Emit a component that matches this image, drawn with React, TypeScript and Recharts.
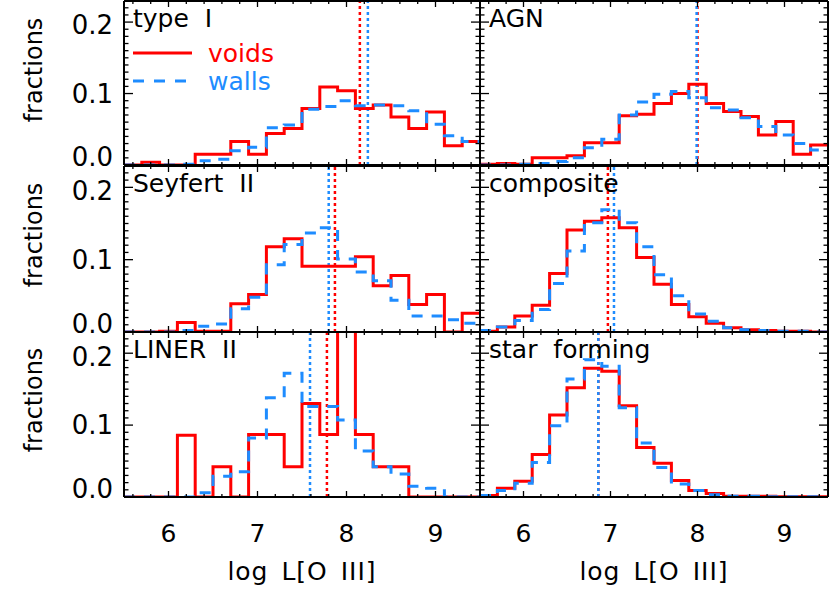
import React from 'react';
import { LineChart, Line, XAxis, YAxis, ReferenceLine } from 'recharts';

// ---- data ----
const binEdges = [5.5, 5.7, 5.9, 6.1, 6.3, 6.5, 6.7, 6.9, 7.1, 7.3, 7.5, 7.7, 7.9, 8.1, 8.3, 8.5, 8.7, 8.9, 9.1, 9.3, 9.5];

const typeIVoids = [0, 0.004, 0, 0, 0.015, 0.015, 0.033, 0.015, 0.044, 0.051, 0.079, 0.109, 0.104, 0.079, 0.084, 0.067, 0.051, 0.074, 0.027, 0.033];
const typeIWalls = [0, 0, 0, 0.001, 0.006, 0.008, 0.020, 0.025, 0.052, 0.056, 0.078, 0.082, 0.090, 0.083, 0.084, 0.083, 0.076, 0.057, 0.041, 0.033];

const agnVoids = [0.001, 0.002, 0.001, 0.010, 0.010, 0.013, 0.031, 0.031, 0.069, 0.071, 0.086, 0.100, 0.113, 0.086, 0.075, 0.068, 0.042, 0.061, 0.015, 0.028];
const agnWalls = [0, 0, 0.001, 0.002, 0.005, 0.010, 0.024, 0.036, 0.070, 0.088, 0.099, 0.103, 0.094, 0.080, 0.077, 0.066, 0.054, 0.042, 0.030, 0.021];

const seyfertVoids = [0, 0, 0.001, 0.013, 0.001, 0.001, 0.039, 0.052, 0.118, 0.129, 0.091, 0.091, 0.091, 0.104, 0.064, 0.078, 0.038, 0.052, 0, 0.026];
const seyfertWalls = [0, 0, 0, 0.002, 0.008, 0.011, 0.032, 0.048, 0.093, 0.121, 0.137, 0.144, 0.101, 0.083, 0.071, 0.044, 0.022, 0.022, 0.017, 0.012];

const compositeVoids = [0.001, 0.007, 0.022, 0.037, 0.081, 0.141, 0.153, 0.158, 0.144, 0.103, 0.066, 0.038, 0.021, 0.012, 0.006, 0.003, 0.002, 0.001, 0.001, 0];
const compositeWalls = [0.002, 0.007, 0.016, 0.031, 0.067, 0.112, 0.151, 0.169, 0.151, 0.118, 0.079, 0.050, 0.025, 0.015, 0.006, 0.003, 0.002, 0.001, 0.001, 0];

const linerVoids = [0, 0, 0, 0.086, 0, 0.042, 0, 0.087, 0.087, 0.042, 0.130, 0.087, 0.27, 0.087, 0.042, 0.042, 0, 0, 0, 0];
const linerWalls = [0, 0, 0, 0, 0.006, 0.029, 0.035, 0.082, 0.138, 0.172, 0.126, 0.126, 0.107, 0.064, 0.042, 0.032, 0.015, 0.012, 0, 0];

const starVoids = [0.002, 0.012, 0.022, 0.059, 0.114, 0.152, 0.179, 0.175, 0.127, 0.069, 0.047, 0.023, 0.009, 0.005, 0.001, 0.001, 0.001, 0.0005, 0.0005, 0.0005];
const starWalls = [0.002, 0.009, 0.019, 0.048, 0.099, 0.164, 0.191, 0.182, 0.124, 0.075, 0.041, 0.018, 0.009, 0.003, 0.001, 0.001, 0.0005, 0.0005, 0.0005, 0.0005];

const panelNames = ['type I', 'AGN', 'Seyfert II', 'composite', 'LINER II', 'star forming'];
const medianVoids = [8.15, 8.0, 7.87, 6.97, 7.78, 6.86];
const medianWalls = [8.24, 7.99, 7.8, 7.04, 7.59, 6.86];

const xTicks = [5.6, 5.8, 6.0, 6.2, 6.4, 6.6, 6.8, 7.0, 7.2, 7.4, 7.6, 7.8, 8.0, 8.2, 8.4, 8.6, 8.8, 9.0, 9.2, 9.4];
const xMajor = [6, 7, 8, 9];
const yTicks = [0, 0.01, 0.02, 0.03, 0.04, 0.05, 0.06, 0.07, 0.08, 0.09, 0.1, 0.11, 0.12, 0.13, 0.14, 0.15, 0.16, 0.17, 0.18, 0.19, 0.2, 0.21, 0.22];
const yMajor = [0, 0.1, 0.2];
const yTickLabels = ['0.0', '0.1', '0.2'];

// ---- style ----
const RED = '#ff0000';
const BLUE = '#1e8cff';
const FONT = '"DejaVu Sans", sans-serif';
const X_DOMAIN: [number, number] = [5.5, 9.5];
const Y_DOMAIN: [number, number] = [0, 0.2295];

const buildRows = (voids: number[], walls: number[]) =>
  binEdges.map((x, i) => ({
    x,
    voids: voids[Math.min(i, voids.length - 1)],
    walls: walls[Math.min(i, walls.length - 1)],
  }));

const panelSeries = [
  [typeIVoids, typeIWalls],
  [agnVoids, agnWalls],
  [seyfertVoids, seyfertWalls],
  [compositeVoids, compositeWalls],
  [linerVoids, linerWalls],
  [starVoids, starWalls],
];

const near = (v: number, list: number[]) => list.findIndex((m) => Math.abs(m - v) < 1e-6);

const makeYTick = (side: 'left' | 'right', showLabel: boolean) => (props: any) => {
  const { x, y, payload } = props;
  const v = payload.value;
  const mi = near(v, yMajor);
  const major = mi >= 0;
  const len = major ? 9 : 4.5;
  const dir = side === 'left' ? 1 : -1;
  const shift = v === 0 ? -8 : mi === 2 ? 3 : 0;
  return (
    <g>
      <line x1={x} y1={y} x2={x + dir * len} y2={y} stroke="#000" strokeWidth={1.3} />
      {showLabel && major ? (
        <text x={x - 11} y={y + shift} dy="0.36em" textAnchor="end" fontSize={26} fontFamily={FONT} fill="#000">
          {yTickLabels[mi]}
        </text>
      ) : null}
    </g>
  );
};

const makeXTick = (side: 'bottom' | 'top', showLabel: boolean) => (props: any) => {
  const { x, y, payload } = props;
  const v = payload.value;
  const mi = near(v, xMajor);
  const major = mi >= 0;
  const len = major ? 6 : 3;
  const dir = side === 'bottom' ? -1 : 1;
  return (
    <g>
      <line x1={x} y1={y} x2={x} y2={y + dir * len} stroke="#000" strokeWidth={1.3} />
      {showLabel && major ? (
        <text x={x} y={y + 45} textAnchor="middle" fontSize={25} fontFamily={FONT} fill="#000">
          {String(xMajor[mi])}
        </text>
      ) : null}
    </g>
  );
};

const colLeft = [0, 478];
const colWidth = [482, 352];
const colLeftAxisW = [124, 2];
const rowTop = [-1, 164, 330];
const rowPlotH = [164, 166, 165];
const rowBottomH = [14, 14, 96];

const axisLine = { stroke: '#000', strokeWidth: 2 };

function Panel({ idx }: { idx: number }) {
  const col = idx % 2;
  const row = Math.floor(idx / 2);
  const data = buildRows(panelSeries[idx][0], panelSeries[idx][1]);
  const w = colWidth[col];
  const h = 2 + rowPlotH[row] + rowBottomH[row];
  return (
    <div style={{ position: 'absolute', left: colLeft[col], top: rowTop[row], width: w, height: h }}>
      <LineChart width={w} height={h} data={data} margin={{ top: 0, right: 0, bottom: 0, left: 0 }}>
        <XAxis
          xAxisId="b"
          dataKey="x"
          type="number"
          orientation="bottom"
          domain={X_DOMAIN}
          allowDataOverflow
          ticks={xTicks}
          interval={0}
          height={rowBottomH[row]}
          tickSize={0}
          tickMargin={0}
          tickLine={false}
          axisLine={axisLine}
          tick={makeXTick('bottom', row === 2)}
        />
        <XAxis
          xAxisId="t"
          dataKey="x"
          type="number"
          orientation="top"
          domain={X_DOMAIN}
          allowDataOverflow
          ticks={xTicks}
          interval={0}
          height={2}
          tickSize={0}
          tickMargin={0}
          tickLine={false}
          axisLine={axisLine}
          tick={makeXTick('top', false)}
        />
        <YAxis
          yAxisId="l"
          type="number"
          orientation="left"
          domain={Y_DOMAIN}
          allowDataOverflow
          ticks={yTicks}
          interval={0}
          width={colLeftAxisW[col]}
          tickSize={0}
          tickMargin={0}
          tickLine={false}
          axisLine={axisLine}
          tick={makeYTick('left', col === 0)}
        />
        <YAxis
          yAxisId="r"
          type="number"
          orientation="right"
          domain={Y_DOMAIN}
          allowDataOverflow
          ticks={yTicks}
          interval={0}
          width={2}
          tickSize={0}
          tickMargin={0}
          tickLine={false}
          axisLine={axisLine}
          tick={makeYTick('right', false)}
        />
        <ReferenceLine xAxisId="b" yAxisId="l" x={medianVoids[idx]} stroke={RED} strokeWidth={2.5} strokeDasharray="3 3" />
        <ReferenceLine xAxisId="b" yAxisId="l" x={medianWalls[idx]} stroke={BLUE} strokeWidth={2.5} strokeDasharray="3 3" />
        <Line
          xAxisId="b"
          yAxisId="l"
          type="stepAfter"
          dataKey="voids"
          stroke={RED}
          strokeWidth={3}
          dot={false}
          activeDot={false}
          isAnimationActive={false}
        />
        <Line
          xAxisId="b"
          yAxisId="l"
          type="stepAfter"
          dataKey="walls"
          stroke={BLUE}
          strokeWidth={3}
          strokeDasharray="11 9"
          dot={false}
          activeDot={false}
          isAnimationActive={false}
        />
      </LineChart>
    </div>
  );
}

const plotLeft = [124, 480];
const plotTop = [1, 166, 332];

export default function App() {
  return (
    <div style={{ position: 'absolute', left: 0, top: 0, width: 830, height: 593, overflow: 'hidden', background: '#fff' }}>
      {panelNames.map((_, i) => (
        <Panel key={i} idx={i} />
      ))}
      <svg width={830} height={593} style={{ position: 'absolute', left: 0, top: 0, pointerEvents: 'none' }}>
        {panelNames.map((name, i) => (
          <text
            key={name}
            x={plotLeft[i % 2] + 9}
            y={plotTop[Math.floor(i / 2)] + 25.5}
            fontSize={25}
            fontFamily={FONT}
            fill="#000"
            style={{ wordSpacing: 8 }}
          >
            {name}
          </text>
        ))}
        {[70, 235, 400].map((cy) => (
          <text
            key={cy}
            x={42}
            y={cy}
            transform={`rotate(-90 42 ${cy})`}
            textAnchor="middle"
            fontSize={24}
            fontFamily={FONT}
            fill="#000"
          >
            fractions
          </text>
        ))}
        {[302, 654].map((cx) => (
          <text
            key={cx}
            x={cx}
            y={580}
            textAnchor="middle"
            fontSize={25}
            fontFamily={FONT}
            fill="#000"
            style={{ wordSpacing: 4, letterSpacing: 1 }}
          >
            log L[O III]
          </text>
        ))}
        <line x1={133} y1={53} x2={192} y2={53} stroke={RED} strokeWidth={3} />
        <text x={208} y={62} fontSize={25} fontFamily={FONT} fill={RED}>
          voids
        </text>
        <line x1={133} y1={81} x2={192} y2={81} stroke={BLUE} strokeWidth={3} strokeDasharray="11 10" />
        <text x={208} y={90} fontSize={25} fontFamily={FONT} fill={BLUE}>
          walls
        </text>
      </svg>
    </div>
  );
}
